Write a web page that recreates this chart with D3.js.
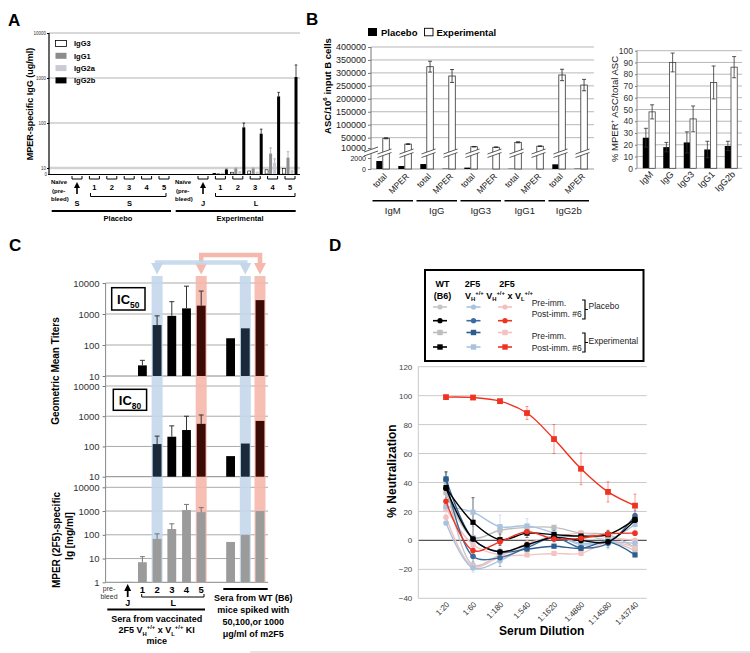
<!DOCTYPE html>
<html><head><meta charset="utf-8">
<script src="https://cdn.jsdelivr.net/npm/d3@7/dist/d3.min.js"></script>
<style>
body{margin:0;background:#fff}
svg{font-family:"Liberation Sans",Arial,Helvetica,sans-serif}
</style></head><body>
<svg id="fig" width="750" height="653"></svg>
<script>
// ================= DATA =================
// Panel A
const aGroups = ["1","2","3","4","5"];
const aIsotypes = ["IgG3","IgG1","IgG2a","IgG2b"];
const aIgG3 = [1, 3, 5, 7, 9];
const aIgG1 = [1.5, 9, 9, 21, 17];
const aIgG2a = [2, 5, 4, 13, 7];
const aIgG2b = [7, 80, 58, 390, 1050];
const aIgG1Err = [0, 1, 1, 7, 6];
const aIgG2aErr = [0, 0, 0, 3, 0];
const aIgG2bErr = [1, 20, 15, 90, 900];
const aTicks = [10000, 1000, 100, 10];

// Panel B (left)
const bGroups = ["IgM","IgG","IgG3","IgG1","IgG2b"];
const bSub = ["total","MPER"];
const bPlacebo = [1450, 550, 900, 60, 250, 0, 50, 0, 850, 60];
const bExp = [47500, 25000, 324000, 288000, 15000, 13000, 32000, 17000, 292000, 253000];
const bExpErr = [2000, 1500, 21000, 25000, 1000, 1000, 2000, 1000, 22000, 22000];
const bLowTicks = [0, 2000];
const bHighTicks = [10000, 50000, 100000, 150000, 200000, 250000, 300000, 350000, 400000];
// Panel B (right)
const bPctPlacebo = [26, 18, 22, 16, 19];
const bPctPlaceboErr = [8, 4, 9, 7, 4];
const bPctExp = [48, 90, 42, 73, 86];
const bPctExpErr = [6, 8, 11, 14, 9];
const bPctTicks = [0,10,20,30,40,50,60,70,80,90,100];

// Panel C
const cCats = ["pre-bleed","J","1","2","3","4","5","gap","50","100","1000"];
const cIC50 = [null, null, 22, 440, 870, 1520, 1860, null, 165, 345, 2800];
const cIC50Err = [null, null, 32, 870, 2500, 7900, 5500, null, null, null, null];
const cIC80 = [null, null, null, 120, 210, 350, 560, null, 48, 125, 700];
const cIC80Err = [null, null, null, 220, 480, 1000, 1100, null, null, null, null];
const cIg = [null, 1.05, 7, 67, 175, 1100, 900, null, 50, 100, 1000];
const cIgErr = [null, null, 12, 110, 290, 1900, 1400, null, null, null, null];
const cTiterTicks = [10, 100, 1000, 10000];
const cIgTicks = [1, 10, 100, 1000, 10000];

// Panel D
const dDil = ["1:20","1:60","1:180","1:540","1:1620","1:4860","1:14580","1:43740"];
const plPreWT    = [40, -17, -10, -3, 2, 3, 0, -7];
const plPreVH    = [12, -19, -14, -4, 3, -2, -1, -2];
const plPreVHVL  = [16, -18, -11, -2, 2, 5, 2, 0];
const plPostWT   = [36, 1, -8, -3, 2, 0, -1, 14];
const plPostVH   = [42, -11, -12, -5, 2, -5, -2, 17];
const plPostVHVL = [27, -7, -1, 6, 1, 1.5, 4.5, 5];
const exPreWT    = [33, 2, 7, 9, 9, 5, 4, -5];
const exPreVH    = [42.5, 1, -8, -6, -4, -5.5, -1, -10];
const exPreVHVL  = [22, -3, -10, -10, -9, -9, -1, -5];
const exPostWT   = [36.5, 12.5, 0.5, 5, 4, 3, 4, 14.5];
const exPostVH   = [23.5, 19.5, 9.5, 10, 5, -3, 0, 11];
const exPostVHVL = [99, 98.7, 96.2, 88, 70, 49.5, 33.5, 24];
const exPostVHVLErr = [1, 1, 1, 4.5, 10, 11, 7, 8];
const exPostWTErr = [11, 17, 4, 3, 3, 2, 3, 4];
const plPostVHErr = [5, 4, 6, 4, 3, 3, 3, 4];
const exPostVHErr = [6, 10, 8, 5, 5, 4, 4, 6];
const plPreWTErr  = [6, 5, 5, 3, 5, 3, 6, 5];
const dTicks = [-40,-20,0,20,40,60,80,100,120];

// ================= HELPERS =================
const FONT = '"Liberation Sans", Arial, sans-serif';
const svg = d3.select("#fig");
svg.append("rect").attr("width",750).attr("height",653).attr("fill","#fff");

function txt(g, x, y, s, o={}) {
  const t = g.append("text").attr("x",x).attr("y",y).text(s)
    .attr("font-size", o.size||10).attr("font-weight", o.bold?"bold":"normal")
    .attr("text-anchor", o.anchor||"start").attr("fill", o.fill||"#000");
  if (o.rotate!==undefined) t.attr("transform",`rotate(${o.rotate},${x},${y})`);
  return t;
}
function rich(g, x, y, parts, o) {
  const t = g.append("text").attr("x",x).attr("y",y).attr("font-size",o.size)
    .attr("font-weight",o.bold?"bold":"normal").attr("text-anchor",o.anchor||"start").attr("fill",o.fill||"#000");
  if (o.rotate!==undefined) t.attr("transform",`rotate(${o.rotate},${x},${y})`);
  let off = 0;
  parts.forEach(([s,k]) => {
    const target = k==="sub" ? o.size*0.3 : k==="sup" ? -o.size*0.4 : 0;
    t.append("tspan").attr("dy", target-off).attr("font-size", k==="n"? o.size : o.size*0.65).text(s);
    off = target;
  });
  return t;
}
function line(g,x1,y1,x2,y2,c,w){ return g.append("line").attr("x1",x1).attr("y1",y1).attr("x2",x2).attr("y2",y2).attr("stroke",c||"#000").attr("stroke-width",w||1); }
function styleAxis(ax, size, fill) {
  ax.attr("font-family", FONT);
  ax.select(".domain").remove();
  ax.selectAll("text").attr("font-size", size).attr("fill", fill||"#333");
  ax.selectAll(".tick line").attr("stroke","#777");
}

// Panel letters
txt(svg, 8, 26, "A", {size:17, bold:true});
txt(svg, 306, 25, "B", {size:17, bold:true});
txt(svg, 9, 251, "C", {size:17, bold:true});
txt(svg, 329, 251, "D", {size:17, bold:true});

// ================= PANEL A =================
(function(){
  const g = svg.append("g");
  const yAlog = d3.scaleLog().domain([10,10000]).range([168,33]);
  const yAlin = d3.scaleLinear().domain([0,10]).range([174,168]);
  const yA = v => v <= 10 ? yAlin(v) : yAlog(v);
  aTicks.forEach(t => line(g,49,yAlog(t),300,yAlog(t), t===10?"#d3d3d3":"#a0a0a0", t===10?2.5:0.8));
  const ax = g.append("g").attr("transform","translate(49,0)")
    .call(d3.axisLeft(yAlog).tickValues(aTicks).tickFormat(d3.format("d")).tickSize(2).tickPadding(1));
  styleAxis(ax, 4.5, "#333");
  ax.selectAll(".tick line").attr("stroke","#000");
  txt(g, 47, 176, "0", {size:4.5, anchor:"end", fill:"#333"});
  line(g,49,33,49,175,"#000",1.2);
  line(g,48,174.5,300,174.5,"#000",1.2);

  // legend
  const legC = {IgG3:"#fff", IgG1:"#8c8c8c", IgG2a:"#cacad6", IgG2b:"#000"};
  aIsotypes.forEach((iso,i) => {
    const yy = 40.5 + 12.3*i;
    g.append("rect").attr("x",55.5).attr("y",yy).attr("width",11).attr("height",6)
      .attr("fill",legC[iso]).attr("stroke", iso==="IgG3"?"#000":"none").attr("stroke-width",0.8);
    txt(g, 74, yy+5.8, iso, {size:7.5, bold:true});
  });

  const xAL = d3.scalePoint().domain(["S",...aGroups]).range([77,164]);
  const xAR = d3.scalePoint().domain(["J",...aGroups]).range([203,290]);
  const xSub = d3.scaleBand().domain(aIsotypes).range([-7.5,7.5]).paddingInner(0.25);
  const vals = {IgG3:aIgG3, IgG1:aIgG1, IgG2a:aIgG2a, IgG2b:aIgG2b};
  const errs = {IgG1:aIgG1Err, IgG2a:aIgG2aErr, IgG2b:aIgG2bErr};
  aGroups.forEach((grp,gi) => {
    aIsotypes.forEach(iso => {
      const v = vals[iso][gi];
      const x = xAR(grp) + xSub(iso), w = xSub.bandwidth();
      g.append("rect").attr("x",x).attr("y",yA(v)).attr("width",w).attr("height",174-yA(v))
        .attr("fill",legC[iso]).attr("stroke", iso==="IgG3"?"#000":"none").attr("stroke-width",0.6);
      if (errs[iso] && errs[iso][gi]>0) {
        const cx = x + w/2, e = v + errs[iso][gi];
        const c = iso==="IgG2b" ? "#000" : "#999";
        line(g,cx,yA(v),cx,yA(e),c,0.7);
        line(g,cx-1.3,yA(e),cx+1.3,yA(e),c,0.7);
      }
    });
  });

  // x annotations
  const brk = (x) => g.append("path").attr("d",`M${x-5},176 V179 H${x+5} V176`).attr("fill","none").attr("stroke","#000").attr("stroke-width",1);
  const arrow = (x) => { line(g,x,186,x,194,"#000",1.6); g.append("path").attr("d",`M${x},182 L${x-3},188 L${x+3},188 Z`).attr("fill","#000"); };
  [[xAL,"S",51,"S",129.5,90.5,166],[xAR,"J",175,"L",256,215.5,295]].forEach(([sc,first,nx,bl,blx,b1,b2]) => {
    sc.domain().forEach(k => brk(sc(k)));
    arrow(sc(first));
    txt(g, sc(first), 205.5, first, {size:7.5, bold:true, anchor:"middle"});
    aGroups.forEach(k => txt(g, sc(k), 189.5, k, {size:7.5, bold:true, anchor:"middle"}));
    g.append("path").attr("d",`M${b1},193 V196.5 H${b2} V193`).attr("fill","none").attr("stroke","#000").attr("stroke-width",1);
    txt(g, blx, 205.5, bl, {size:7.5, bold:true, anchor:"middle"});
    txt(g, nx, 184, "Naïve", {size:6, bold:true});
    txt(g, nx+1, 192.5, "(pre-", {size:6, bold:true});
    txt(g, nx, 201, "bleed)", {size:6, bold:true});
  });
  line(g,51.7,211,171,211,"#000",2);
  line(g,175.7,211,295.7,211,"#000",2);
  txt(g,118,221,"Placebo",{size:7.5,bold:true,anchor:"middle"});
  txt(g,240,221,"Experimental",{size:7.5,bold:true,anchor:"middle"});
  txt(g,33,104,"MPER-specific IgG (ug/ml)",{size:9,bold:true,anchor:"middle",rotate:-90});
})();

// ================= PANEL B left =================
(function(){
  const g = svg.append("g");
  const yLow = d3.scaleLinear().domain([0,2000]).range([169,158]);
  const yHigh = d3.scaleLinear().domain([10000,400000]).range([148,47]);
  const yB = v => v <= 3000 ? yLow(v) : yHigh(v);
  bHighTicks.filter(t=>t>=50000).forEach(t => line(g,371,yHigh(t),594,yHigh(t),"#b0b0b0",0.9));
  line(g,371,169,594,169,"#999",1);
  const ax1 = g.append("g").attr("transform","translate(371,0)").call(d3.axisLeft(yHigh).tickValues(bHighTicks).tickFormat(d3.format("d")).tickSize(3).tickPadding(2));
  styleAxis(ax1, 9, "#222");
  const ax2 = g.append("g").attr("transform","translate(371,0)").call(d3.axisLeft(yLow).tickValues(bLowTicks).tickFormat(d3.format("d")).tickSize(3).tickPadding(2));
  styleAxis(ax2, 7, "#222");
  line(g,371,47,371,169,"#777",1);
  // axis break
  g.append("path").attr("d","M364,152 L378,147 L378,151 L364,156 Z").attr("fill","#fff");
  line(g,364,152,378,147,"#444",0.9); line(g,364,156,378,151,"#444",0.9);

  const xB = d3.scaleBand().domain(d3.range(10)).range([371.5,591.5]);
  const xS = d3.scaleBand().domain(["Placebo","Experimental"]).range([-6.2,6.8]);
  d3.range(10).forEach(i => {
    const c = xB(i) + xB.bandwidth()/2;
    const pv = bPlacebo[i];
    if (pv > 0) g.append("rect").attr("x",c+xS("Placebo")).attr("y",yB(pv)).attr("width",xS.bandwidth()-0.5).attr("height",169-yB(pv)).attr("fill","#000");
    const ev = bExp[i];
    const ex = c + xS("Experimental"), ew = xS.bandwidth();
    g.append("rect").attr("x",ex).attr("y",yB(ev)).attr("width",ew).attr("height",169-yB(ev)).attr("fill","#fff").attr("stroke","#333").attr("stroke-width",0.8);
    const cx = ex+ew/2, e = bExpErr[i];
    line(g,cx,yB(ev+e),cx,yB(ev-e),"#222",0.8);
    line(g,cx-2,yB(ev+e),cx+2,yB(ev+e),"#222",0.8);
    line(g,cx-2,yB(ev-e),cx+2,yB(ev-e),"#222",0.8);
    // break marks
    const bx = c + 2;
    g.append("path").attr("d",`M${bx-7},154 L${bx+7},149 L${bx+7},152.5 L${bx-7},157.5 Z`).attr("fill","#fff");
    line(g,bx-7,154,bx+7,149,"#333",0.8); line(g,bx-7,157.5,bx+7,152.5,"#333",0.8);
    txt(g, c+5, 177, bSub[i%2], {size:8.5, anchor:"end", rotate:-45, fill:"#111"});
  });
  bGroups.forEach((gr,k) => {
    const x1 = xB(2*k)+1, x2 = xB(2*k+1)+xB.bandwidth()-2.5;
    line(g,x1,200.7,x2,200.7,"#000",1.5);
    txt(g,(x1+x2)/2,214,gr,{size:9.5,anchor:"middle",fill:"#222"});
  });
  // legend
  g.append("rect").attr("x",368).attr("y",28).attr("width",9).attr("height",8).attr("fill","#000");
  txt(g,381,35.5,"Placebo",{size:9.5,bold:true});
  g.append("rect").attr("x",424.5).attr("y",28.3).attr("width",8.5).attr("height",7.5).attr("fill","#fff").attr("stroke","#000").attr("stroke-width",0.9);
  txt(g,436.5,35.5,"Experimental",{size:9.5,bold:true});
  rich(g, 331, 86, [["ASC/10","n"],["6","sup"],[" input B cells","n"]], {size:9.5, bold:true, anchor:"middle", rotate:-90});
})();

// ================= PANEL B right =================
(function(){
  const g = svg.append("g");
  const yR = d3.scaleLinear().domain([0,100]).range([168.3,50.7]);
  bPctTicks.forEach(t => line(g,637,yR(t),742,yR(t),"#b0b0b0",0.9));
  const ax = g.append("g").attr("transform","translate(637,0)").call(d3.axisLeft(yR).tickValues(bPctTicks).tickSize(2).tickPadding(2));
  styleAxis(ax, 8.5, "#333");
  line(g,637,50.7,637,168.3,"#888",1);
  const xR = d3.scaleBand().domain(bGroups).range([638.5,741]);
  const xS = d3.scaleBand().domain(["Placebo","Experimental"]).range([-6,6.5]);
  bGroups.forEach((gr,i) => {
    const c = xR(gr)+xR.bandwidth()/2;
    const w = xS.bandwidth();
    const px = c+xS("Placebo"), ex = c+xS("Experimental");
    g.append("rect").attr("x",px).attr("y",yR(bPctPlacebo[i])).attr("width",w).attr("height",168.3-yR(bPctPlacebo[i])).attr("fill","#000");
    g.append("rect").attr("x",ex).attr("y",yR(bPctExp[i])).attr("width",w).attr("height",168.3-yR(bPctExp[i])).attr("fill","#fff").attr("stroke","#444").attr("stroke-width",0.8);
    [[px+w/2,bPctPlacebo[i],bPctPlaceboErr[i]],[ex+w/2,bPctExp[i],bPctExpErr[i]]].forEach(([cx,v,e]) => {
      line(g,cx,yR(v+e),cx,yR(v-e),"#333",0.8);
      line(g,cx-2,yR(v+e),cx+2,yR(v+e),"#333",0.8);
      line(g,cx-2,yR(v-e),cx+2,yR(v-e),"#333",0.8);
    });
    txt(g, c+5, 175, gr, {size:9, anchor:"end", rotate:-45, fill:"#222"});
  });
  rich(g, 618, 109, [["% MPER","n"],["+","sup"],[" ASC/total ASC","n"]], {size:9.5, anchor:"middle", rotate:-90, fill:"#222"});
})();

// ================= PANEL C =================
(function(){
  const g = svg.append("g");
  const xC = d3.scaleBand().domain(d3.range(cCats.length)).range([105.65,267.35]).paddingInner(0.4).paddingOuter(0.2);
  const cx = i => xC(i) + xC.bandwidth()/2;
  const yIC50 = d3.scaleLog().domain([10,10000]).range([376,283]);
  const yIC80 = d3.scaleLog().domain([10,10000]).range([476.7,386]);
  const yIg = d3.scaleLog().domain([1,10000]).range([582.3,487.3]);
  const panels = [[yIC50,cTiterTicks,cIC50,cIC50Err,"titer"],[yIC80,cTiterTicks,cIC80,cIC80Err,"titer"],[yIg,cIgTicks,cIg,cIgErr,"ig"]];
  // gridlines
  panels.forEach(([y,ticks]) => {
    ticks.forEach((t,k) => line(g,105.6,y(t),268,y(t), k===0?"#888":"#aaa", 1));
    const ax = g.append("g").attr("transform","translate(105.6,0)").call(d3.axisLeft(y).tickValues(ticks).tickFormat(d3.format("d")).tickSize(3).tickPadding(3));
    styleAxis(ax, 9.5, "#333");
  });
  line(g,105.6,283,105.6,582.3,"#888",1);
  // shaded columns
  const blue = "#c3d7eb", pink = "#f6b8ac";
  [[3,blue],[9,blue],[6,pink],[10,pink]].forEach(([i,c]) => {
    g.append("rect").attr("x",cx(i)-5.5).attr("y",276).attr("width",11).attr("height",582.3-276).attr("fill",c).attr("opacity",0.9);
  });
  // connectors
  const head = (x,c) => g.append("path").attr("d",`M${x-6},263 L${x+6},263 L${x},274.5 Z`).attr("fill",c);
  g.append("path").attr("d",`M${cx(6)},266 V255 H${cx(10)} V266`).attr("fill","none").attr("stroke",pink).attr("stroke-width",4.5);
  head(cx(6),pink); head(cx(10),pink);
  g.append("path").attr("d",`M${cx(3)},266 V262.5 H${cx(9)} V266`).attr("fill","none").attr("stroke",blue).attr("stroke-width",4.5).attr("opacity",0.9);
  head(cx(3),blue); head(cx(9),blue);

  // bars
  const darkCol = i => (i===3||i===9) ? "#1b2a3a" : (i===6||i===10) ? "#3c0b05" : "#000";
  panels.forEach(([y,ticks,vals,errs,kind]) => {
    const base = y(ticks[0]);
    vals.forEach((v,i) => {
      if (v==null) return;
      g.append("rect").attr("x",xC(i)).attr("y",y(v)).attr("width",xC.bandwidth()).attr("height",base-y(v))
        .attr("fill", kind==="ig" ? "#9b9b9b" : darkCol(i));
      const e = errs[i];
      if (e!=null) {
        const ec = kind==="ig" ? "#777" : "#333";
        line(g,cx(i),y(v),cx(i),y(e),ec,1);
        line(g,cx(i)-2.5,y(e),cx(i)+2.5,y(e),ec,1);
      }
    });
  });
  // IC boxes
  g.append("rect").attr("x",111.7).attr("y",287.7).attr("width",33.3).attr("height",22.3).attr("fill","#fff").attr("stroke","#000").attr("stroke-width",1.5);
  rich(g,128.3,304,[["IC","n"],["50","sub"]],{size:13,bold:true,anchor:"middle"});
  g.append("rect").attr("x",113.3).attr("y",389.3).attr("width",33.3).attr("height",21).attr("fill","#fff").attr("stroke","#000").attr("stroke-width",1.5);
  rich(g,130,405,[["IC","n"],["80","sub"]],{size:13,bold:true,anchor:"middle"});

  // y labels
  txt(g,59,371,"Geometric Mean Titers",{size:10,bold:true,anchor:"middle",rotate:-90});
  txt(g,60,540,"MPER (2F5)-specific",{size:10,bold:true,anchor:"middle",rotate:-90});
  txt(g,73,536,"Ig [mg/ml]",{size:10,bold:true,anchor:"middle",rotate:-90});

  // x annotations
  txt(g,109,591,"pre-",{size:7,anchor:"middle",fill:"#333"});
  txt(g,109,598.5,"bleed",{size:7,anchor:"middle",fill:"#333"});
  const ax = cx(1);
  line(g,ax,589,ax,597,"#000",1.8);
  g.append("path").attr("d",`M${ax},584 L${ax-3.5},591 L${ax+3.5},591 Z`).attr("fill","#000");
  txt(g,ax,606,"J",{size:9,bold:true,anchor:"middle"});
  [2,3,4,5,6].forEach(i => txt(g,cx(i),592.5,cCats[i],{size:9.5,bold:true,anchor:"middle"}));
  g.append("path").attr("d",`M141.7,594 V597 H204 V594`).attr("fill","none").attr("stroke","#000").attr("stroke-width",1);
  txt(g,173.3,605.5,"L",{size:9,bold:true,anchor:"middle"});
  line(g,107.3,609.5,205,609.5,"#000",2);
  txt(g,156.7,621.5,"Sera from vaccinated",{size:9,bold:true,anchor:"middle"});
  rich(g,156.7,633,[["2F5 V","n"],["H","sub"],["+/+","sup"],[" x V","n"],["L","sub"],["+/+","sup"],[" KI","n"]],{size:9,bold:true,anchor:"middle"});
  txt(g,156.7,643.5,"mice",{size:9,bold:true,anchor:"middle"});
  line(g,223.3,589,267.7,589,"#000",2);
  txt(g,253.3,601,"Sera from WT (B6)",{size:9,bold:true,anchor:"middle"});
  txt(g,253.3,613,"mice spiked with",{size:9,bold:true,anchor:"middle"});
  txt(g,253.3,625,"50,100,or 1000",{size:9,bold:true,anchor:"middle"});
  txt(g,253.3,636.5,"μg/ml of m2F5",{size:9,bold:true,anchor:"middle"});
})();

// ================= PANEL D =================
(function(){
  const g = svg.append("g");
  const yD = d3.scaleLinear().domain([-40,120]).range([598.3,366.7]);
  const xD = d3.scalePoint().domain(dDil).range([446,635]);
  dTicks.forEach(t => line(g,418.3,yD(t),646.7,yD(t), t===0?"#555":"#c4c4c4", t===0?1.1:0.9));
  line(g,418.3,366.7,418.3,598.3,"#c4c4c4",0.9);
  const ax = g.append("g").attr("transform","translate(418.3,0)").call(d3.axisLeft(yD).tickValues(dTicks).tickSize(0).tickPadding(6));
  styleAxis(ax, 8, "#444");
  dDil.forEach(d => txt(g, xD(d)+4, 605, d, {size:8, anchor:"end", rotate:-45, fill:"#333"}));
  txt(g,541.7,635,"Serum Dilution",{size:12,bold:true,anchor:"middle"});
  txt(g,396,471,"% Neutralization",{size:12,bold:true,anchor:"middle",rotate:-90});

  const series = [
    {v:plPreWT, e:plPreWTErr, c:"#c6c6c6", s:"circle"},
    {v:exPreWT, e:null, c:"#bdbdbd", s:"square"},
    {v:plPreVHVL, e:null, c:"#f3c0c0", s:"circle"},
    {v:exPreVHVL, e:null, c:"#f3c3c3", s:"square"},
    {v:plPreVH, e:null, c:"#a9c3df", s:"circle"},
    {v:exPostVH, e:exPostVHErr, c:"#a9c3df", s:"square"},
    {v:plPostVH, e:plPostVHErr, c:"#3d6b9b", s:"circle"},
    {v:exPreVH, e:null, c:"#2d5d8d", s:"square"},
    {v:plPostWT, e:null, c:"#000", s:"circle"},
    {v:exPostWT, e:exPostWTErr, c:"#000", s:"square"},
    {v:plPostVHVL, e:null, c:"#ef3322", s:"circle"},
    {v:exPostVHVL, e:exPostVHVLErr, c:"#ef3322", s:"square"}
  ];
  const ln = d3.line().x((d,i)=>xD(dDil[i])).y(d=>yD(d)).curve(d3.curveCatmullRom.alpha(0.5));
  series.forEach(sr => {
    if (sr.e) sr.v.forEach((v,i) => {
      const x = xD(dDil[i]);
      line(g,x,yD(v+sr.e[i]),x,yD(v-sr.e[i]),sr.c,0.8).attr("opacity",0.6);
      line(g,x-1.5,yD(v+sr.e[i]),x+1.5,yD(v+sr.e[i]),sr.c,0.8).attr("opacity",0.6);
      line(g,x-1.5,yD(v-sr.e[i]),x+1.5,yD(v-sr.e[i]),sr.c,0.8).attr("opacity",0.6);
    });
  });
  series.forEach(sr => {
    g.append("path").attr("d",ln(sr.v)).attr("fill","none").attr("stroke",sr.c).attr("stroke-width",1.4);
    sr.v.forEach((v,i) => {
      const x = xD(dDil[i]), y = yD(v);
      if (sr.s==="circle") g.append("circle").attr("cx",x).attr("cy",y).attr("r",2.8).attr("fill",sr.c);
      else { const s = sr.c==="#ef3322" ? 5.8 : 5.2; g.append("rect").attr("x",x-s/2).attr("y",y-s/2).attr("width",s).attr("height",s).attr("fill",sr.c); }
    });
  });

  // legend
  const L = svg.append("g");
  L.append("rect").attr("x",425).attr("y",270).attr("width",218.5).attr("height",91).attr("fill","#fff").attr("stroke","#000").attr("stroke-width",2);
  txt(L,442.5,287,"WT",{size:9,bold:true,anchor:"middle"});
  txt(L,442.5,298.5,"(B6)",{size:9,bold:true,anchor:"middle"});
  txt(L,472.5,287,"2F5",{size:9,bold:true,anchor:"middle"});
  txt(L,507,287,"2F5",{size:9,bold:true,anchor:"middle"});
  rich(L,465,298.5,[["V","n"],["H","sub"],["+/+","sup"],[" V","n"],["H","sub"],["+/+","sup"],[" x V","n"],["L","sub"],["+/+","sup"]],{size:9,bold:true});
  const rows = [
    {y:307, shape:"circle", colors:["#c6c6c6","#a9c3df","#f3c0c0"]},
    {y:320.7, shape:"circle", colors:["#000","#3d6b9b","#ef3322"]},
    {y:332.5, shape:"square", colors:["#bdbdbd","#2d5d8d","#f3c3c3"]},
    {y:347, shape:"square", colors:["#000","#a9c3df","#ef3322"]}
  ];
  const cols = [440, 473.5, 505];
  rows.forEach(r => r.colors.forEach((c,k) => {
    line(L,cols[k]-7,r.y,cols[k]+7,r.y,c,1.6);
    if (r.shape==="circle") L.append("circle").attr("cx",cols[k]).attr("cy",r.y).attr("r",2.6).attr("fill",c);
    else L.append("rect").attr("x",cols[k]-2.7).attr("y",r.y-2.7).attr("width",5.4).attr("height",5.4).attr("fill",c);
  }));
  [[305.5,317,"Placebo",300,319,309],[338.5,351,"Experimental",333,352,343.5]].forEach(([y1,y2,lab,b1,b2,ly]) => {
    txt(L,531.7,y1,"Pre-imm.",{size:8.5,fill:"#222"});
    txt(L,531.7,y2,"Post-imm. #6",{size:8.5,fill:"#222"});
    L.append("path").attr("d",`M582,${b1} H585 V${b2} H582 M585,${(b1+b2)/2} H588`).attr("fill","none").attr("stroke","#000").attr("stroke-width",1.2);
    txt(L,588.5,ly,lab,{size:8.5,fill:"#222"});
  });
})();

// bottom rule
line(svg,250,652,750,652,"#c8c8c8",1);
</script>
</body></html>
